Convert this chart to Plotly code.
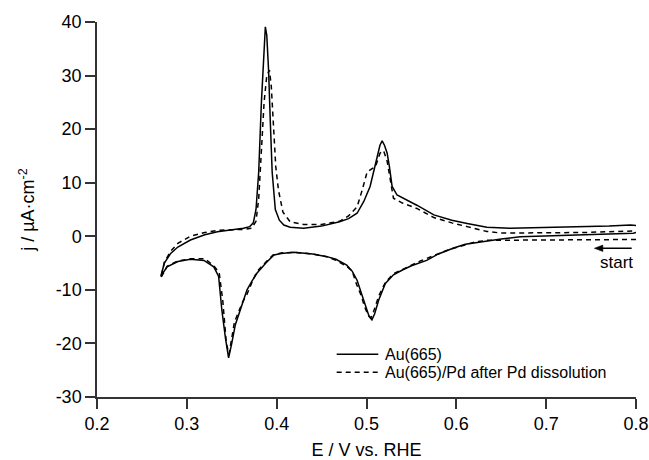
import plotly.graph_objects as go

# ---------------- data ----------------
series_names = ["Au(665)", "Au(665)/Pd after Pd dissolution"]

# Au(665): scan starts at 0.8 V going negative, then back positive
E_au = [0.800, 0.797, 0.770, 0.740, 0.700, 0.671, 0.650, 0.627, 0.610, 0.597,
        0.580, 0.567, 0.550, 0.540, 0.530, 0.521, 0.5136, 0.509, 0.506, 0.503,
        0.500, 0.497, 0.4895, 0.484, 0.478, 0.466, 0.456, 0.440, 0.419, 0.405,
        0.397, 0.388, 0.378, 0.372, 0.367, 0.362, 0.358, 0.354, 0.350, 0.3465,
        0.343, 0.339, 0.3354, 0.330, 0.319, 0.304, 0.290, 0.278, 0.271,
        0.275, 0.282, 0.290, 0.304, 0.320, 0.334, 0.350, 0.363, 0.370, 0.374,
        0.377, 0.380, 0.383, 0.3855, 0.3874, 0.389, 0.391, 0.393, 0.395, 0.3985,
        0.403, 0.408, 0.415, 0.430, 0.450, 0.470, 0.480, 0.4895, 0.497, 0.504,
        0.509, 0.512, 0.515, 0.5174, 0.520, 0.523, 0.5255, 0.5285, 0.534, 0.545,
        0.556, 0.575, 0.595, 0.612, 0.634, 0.660, 0.700, 0.738, 0.770, 0.794, 0.800]
j_au = [0.7, 0.56, 0.45, 0.3, 0.15, -0.07, -0.5, -1.0, -1.5, -2.2,
        -3.3, -4.5, -5.5, -6.3, -7.2, -8.8, -11.9, -14.5, -15.6, -15.0,
        -13.5, -11.9, -8.2, -6.5, -5.4, -4.3, -3.8, -3.3, -3.0, -3.2,
        -3.5, -5.0, -6.9, -8.5, -10.0, -12.5, -14.5, -16.5, -20.0, -22.7,
        -19.0, -13.8, -7.5, -5.7, -4.5, -4.3, -4.7, -5.7, -7.5,
        -5.0, -3.2, -2.0, -0.7, 0.3, 0.86, 1.2, 1.5, 1.8, 2.5,
        5.0, 12.0, 25.0, 34.0, 39.1, 37.5, 31.0, 21.0, 12.0, 5.0,
        3.0, 2.1, 1.7, 1.5, 1.9, 2.7, 3.3, 4.3, 6.5, 9.3,
        12.5, 14.9, 17.0, 17.8, 17.0, 15.5, 13.0, 9.3, 7.7, 6.8,
        5.8, 4.0, 3.0, 2.4, 1.7, 1.5, 1.6, 1.8, 1.9, 2.1, 2.0]

# Au(665)/Pd after Pd dissolution
E_pd = [0.800, 0.750, 0.700, 0.650, 0.634, 0.620, 0.605, 0.590, 0.575, 0.560,
        0.545, 0.530, 0.521, 0.514, 0.508, 0.505, 0.502, 0.498, 0.494, 0.489,
        0.484, 0.478, 0.466, 0.456, 0.440, 0.420, 0.405, 0.396, 0.388, 0.378,
        0.372, 0.367, 0.362, 0.357, 0.353, 0.350, 0.347, 0.344, 0.340, 0.336,
        0.330, 0.320, 0.304, 0.290, 0.278, 0.271,
        0.275, 0.282, 0.290, 0.304, 0.320, 0.334, 0.350, 0.365, 0.372, 0.377,
        0.380, 0.383, 0.386, 0.389, 0.392, 0.394, 0.396, 0.399, 0.402, 0.407,
        0.415, 0.430, 0.450, 0.470, 0.480, 0.4895, 0.495, 0.5007, 0.505, 0.510,
        0.515, 0.519, 0.523, 0.527, 0.530, 0.540, 0.556, 0.575, 0.595, 0.612,
        0.634, 0.650, 0.700, 0.740, 0.770, 0.800]
j_pd = [-0.6, -0.65, -0.7, -0.7, -0.75, -1.1, -1.8, -2.6, -3.6, -4.6,
        -5.8, -7.0, -8.6, -11.0, -14.0, -15.2, -14.8, -13.2, -11.0, -9.0,
        -6.5, -5.6, -4.5, -3.8, -3.3, -3.0, -3.1, -3.5, -4.8, -6.6,
        -8.8, -10.8, -12.3, -14.5, -16.0, -19.0, -22.0, -20.0, -12.0, -6.8,
        -5.5, -4.2, -4.2, -4.6, -5.6, -7.8,
        -4.8, -2.8, -1.3, 0.0, 0.7, 1.1, 1.2, 1.3, 1.5, 2.8,
        7.0, 16.0, 25.0, 30.0, 31.0, 28.0, 21.0, 13.0, 8.6, 4.5,
        2.7, 2.2, 2.2, 2.8, 3.8, 5.5, 8.5, 12.0, 12.5, 13.0,
        15.5, 16.0, 14.0, 10.0, 7.1, 6.2, 5.2, 3.5, 2.5, 1.8,
        0.9, 0.6, 0.6, 0.7, 0.85, 1.0]

x_tickvals = [0.2, 0.3, 0.4, 0.5, 0.6, 0.7, 0.8]
x_ticktext = ["0.2", "0.3", "0.4", "0.5", "0.6", "0.7", "0.8"]
y_tickvals = [-30, -20, -10, 0, 10, 20, 30, 40]
y_ticktext = ["-30", "-20", "-10", "0", "10", "20", "30", "40"]

x_title = "E / V vs. RHE"
y_title = "j / µA·cm<sup>-2</sup>"

# ---------------- figure ----------------
FONT = "Liberation Sans, Arial, Helvetica, sans-serif"
AX = "#333333"

fig = go.Figure()
fig.add_trace(go.Scatter(x=E_au, y=j_au, mode="lines", name=series_names[0],
                         line=dict(color="black", width=1.5), showlegend=False))
fig.add_trace(go.Scatter(x=E_pd, y=j_pd, mode="lines", name=series_names[1],
                         line=dict(color="black", width=1.5, dash="5px,4px"),
                         showlegend=False))

axis_common = dict(showgrid=False, zeroline=False, showline=True, linecolor=AX,
                   linewidth=1.5, ticks="outside", ticklen=10, tickwidth=1.5,
                   tickcolor=AX, automargin=False,
                   tickfont=dict(family=FONT, size=18, color="black"))

fig.update_layout(
    width=649, height=460,
    margin=dict(l=97, r=13, t=22, b=63),
    paper_bgcolor="white", plot_bgcolor="white",
    font=dict(family=FONT, color="black"),
    xaxis=dict(range=[0.2, 0.8], tickvals=x_tickvals, ticktext=x_ticktext,
               title=dict(text=x_title, standoff=10,
                          font=dict(family=FONT, size=18, color="black")),
               **axis_common),
    yaxis=dict(range=[-30, 40], tickvals=y_tickvals, ticktext=y_ticktext,
               title=dict(text=y_title, standoff=16,
                          font=dict(family=FONT, size=18, color="black")),
               **axis_common),
)

# legend (drawn manually to match position/spacing)
leg_x0, leg_x1, leg_tx = 0.4668, 0.5131, 0.5187
leg_y = [-22.0, -25.4]
fig.add_shape(type="line", xref="x", yref="y", x0=leg_x0, x1=leg_x1,
              y0=leg_y[0], y1=leg_y[0], line=dict(color="black", width=1.5))
fig.add_shape(type="line", xref="x", yref="y", x0=leg_x0, x1=leg_x1,
              y0=leg_y[1], y1=leg_y[1], line=dict(color="black", width=1.5, dash="5px,4px"))
for name, yy in zip(series_names, leg_y):
    fig.add_annotation(text=name, xref="x", yref="y", x=leg_tx, y=yy,
                       showarrow=False, xanchor="left", yanchor="middle",
                       font=dict(family=FONT, size=16, color="black"))

# "start" arrow: shaft + arrowhead
arr_head, arr_tail, arr_y = 0.7536, 0.7952, -2.24
fig.add_shape(type="line", xref="x", yref="y", x0=arr_head + 0.006, x1=arr_tail,
              y0=arr_y, y1=arr_y, line=dict(color="black", width=1.5))
fig.add_shape(type="path", xref="x", yref="y",
              path=f"M {arr_head},{arr_y} L {arr_head + 0.0095},{arr_y + 0.6} "
                   f"L {arr_head + 0.0095},{arr_y - 0.6} Z",
              fillcolor="black", line=dict(color="black", width=0.5))
fig.add_annotation(text="start", xref="x", yref="y", x=0.799, y=-4.9,
                   showarrow=False, xanchor="right", yanchor="middle",
                   font=dict(family=FONT, size=17, color="black"))

fig.write_html("out.html")
